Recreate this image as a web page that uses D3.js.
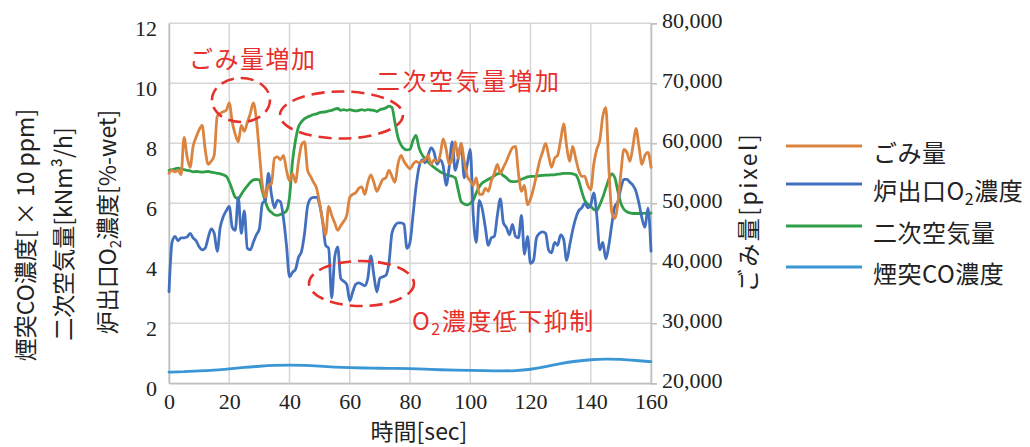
<!DOCTYPE html>
<html>
<head>
<meta charset="utf-8">
<script src="https://cdn.jsdelivr.net/npm/d3@7"></script>
<style>
  html, body { margin: 0; padding: 0; background: #fff; }
  svg { display: block; }
  .jp { font-family: "Noto Sans CJK JP", "Noto Sans", sans-serif; }
  .num { font-family: "Liberation Serif", "DejaVu Serif", serif; }
</style>
</head>
<body>
<svg id="chart" width="1030" height="447"></svg>
<script>
// time axis [sec], one sample per second
const seconds = d3.range(0, 161);

// ごみ量 [pixel] (right axis)
const garbage = [
  55000,55500,55250,55500,54750,61000,57750,56000,59500,61000,
  62250,63000,59000,56500,57000,58000,64500,65000,65250,65500,
  66750,63500,61500,60250,63000,62000,63500,65000,66750,64000,
  58500,53000,51000,53000,53250,57500,57750,57250,58000,55500,
  53750,55000,53500,57000,59750,60250,55500,54500,53500,52500,
  50000,47000,44750,49500,48000,46750,45500,46250,47000,48000,
  51000,51500,51750,52500,52750,51500,53500,54750,53500,52000,
  53000,54000,54250,55500,54500,53500,56500,58000,57000,56250,
  55750,56500,57000,56750,57000,57250,58000,56500,57250,57000,
  58000,60750,59000,56500,57500,60250,57500,60000,57000,54500,
  53750,53000,54250,51500,51500,52500,52000,53750,55000,56500,
  55000,56000,57000,58250,59250,59500,55000,52000,53000,49750,
  50750,52500,54750,57000,58500,60000,58000,56000,57500,58000,
  60500,63250,59500,57000,59500,57500,55500,54500,54500,53000,
  52250,56500,59000,60500,64500,66000,56000,48500,47500,50000,
  55000,59000,58500,57000,59500,62500,59500,56500,58000,58500,
  56000
];

// 炉出口O2濃度 [%-wet]
const o2 = [
  3.05,4.70,4.90,4.75,4.85,4.85,4.88,5.00,4.85,4.75,
  4.55,4.45,4.50,4.85,5.15,5.00,4.40,5.20,5.55,5.75,
  5.90,5.20,5.10,6.20,5.00,5.75,4.50,4.45,4.70,4.95,
  5.15,6.00,6.10,7.00,6.30,5.85,6.10,6.05,5.50,4.60,
  3.55,3.70,3.80,4.20,4.40,5.00,5.90,6.15,6.20,6.20,
  5.95,5.40,4.60,4.50,2.85,4.20,4.55,3.50,3.40,3.30,
  2.75,3.05,3.30,3.35,3.30,3.25,3.50,4.25,3.60,3.05,
  3.50,3.55,3.60,4.00,5.00,5.25,5.35,5.35,5.30,4.50,
  4.70,5.60,6.55,7.20,7.45,7.35,7.60,7.85,7.70,7.30,
  7.45,7.25,6.60,7.20,8.05,7.10,7.50,8.00,6.85,7.30,
  7.80,5.60,4.70,6.10,5.80,5.20,4.60,4.85,4.90,5.60,
  6.15,5.35,5.20,4.95,5.30,4.90,4.85,5.60,4.30,4.90,
  4.00,4.10,4.85,5.00,5.05,5.00,4.45,4.35,4.70,4.60,
  4.95,4.80,4.10,4.60,5.10,5.50,5.75,5.85,6.00,5.85,
  5.95,6.35,5.60,4.45,4.70,4.15,4.60,5.30,5.90,6.05,
  6.50,6.80,6.80,6.70,6.60,6.40,6.00,5.50,5.20,5.85,
  4.40
];

// 二次空気量 [kNm3/h]
const secondaryAir = [
  7.10,7.12,7.15,7.17,7.15,7.12,7.10,7.08,7.05,7.06,
  7.05,7.04,7.05,7.06,7.04,7.02,7.00,6.98,6.95,6.90,
  6.72,6.45,6.20,6.15,6.30,6.45,6.58,6.70,6.78,6.80,
  6.78,6.40,6.05,5.80,5.70,5.62,5.60,5.63,5.67,5.75,
  6.20,7.40,8.10,8.55,8.72,8.82,8.88,8.92,8.96,8.98,
  9.02,9.04,9.05,9.08,9.10,9.14,9.16,9.10,9.12,9.10,
  9.12,9.10,9.08,9.10,9.12,9.10,9.12,9.11,9.10,9.06,
  9.12,9.15,9.18,9.24,9.20,8.70,8.20,7.95,7.82,7.78,
  7.80,8.10,8.26,7.85,7.62,7.48,7.38,7.28,7.20,7.12,
  7.05,7.00,6.95,6.92,6.90,6.85,6.45,6.05,5.98,5.95,
  6.00,6.10,6.35,6.55,6.68,6.74,6.80,6.85,6.92,6.98,
  7.00,6.92,6.85,6.75,6.72,6.72,6.75,6.80,6.84,6.88,
  6.90,6.90,6.90,6.92,6.93,6.94,6.94,6.95,6.95,6.97,
  6.98,7.00,7.00,7.00,6.98,6.95,6.75,6.40,6.10,5.98,
  5.90,5.80,5.76,5.95,6.20,6.50,6.80,6.98,6.85,6.40,
  6.00,5.80,5.72,5.68,5.66,5.66,5.66,5.66,5.67,5.67,
  5.67
];

// 煙突CO濃度 [x10 ppm], sampled every 5 sec
const coSeconds = d3.range(0, 161, 5);
const coConc = [
  0.37,0.39,0.41,0.44,0.48,0.53,0.57,0.60,0.61,0.60,
  0.57,0.54,0.52,0.51,0.50,0.50,0.49,0.47,0.45,0.44,
  0.43,0.42,0.41,0.42,0.46,0.55,0.66,0.74,0.79,0.81,
  0.80,0.76,0.72
];

const xTicks = d3.range(0, 161, 20);
const leftTicks = d3.range(0, 13, 2);
const rightTicks = d3.range(20000, 80001, 10000);

const colors = {
  garbage: "#DB843F",
  o2: "#4270BE",
  air: "#2F9E48",
  co: "#3B96D6",
  note: "#E5302B",
  grid: "#D6D6D6"
};

const svg = d3.select("#chart");
const plotLeft = 169, plotRight = 651, plotTop = 23.3, plotBottom = 383.3;

const x = d3.scaleLinear().domain([0, 160]).range([plotLeft, plotRight]);
const yL = d3.scaleLinear().domain([0, 12]).range([plotBottom, plotTop]);
const yR = d3.scaleLinear().domain([20000, 80000]).range([plotBottom, plotTop]);

// gridlines
const grid = svg.append("g");
grid.selectAll("line.h").data(leftTicks).join("line").attr("class", "h")
  .attr("x1", plotLeft).attr("x2", plotRight)
  .attr("y1", d => yL(d)).attr("y2", d => yL(d))
  .attr("stroke", colors.grid).attr("stroke-width", 1.5);
grid.selectAll("line.v").data(xTicks).join("line").attr("class", "v")
  .attr("x1", d => x(d)).attr("x2", d => x(d))
  .attr("y1", plotTop).attr("y2", plotBottom)
  .attr("stroke", colors.grid).attr("stroke-width", 1.5);

// left axis labels
const leftAxis = svg.append("g").attr("transform", `translate(${plotLeft},0)`)
  .call(d3.axisLeft(yL).tickValues(leftTicks).tickSize(0).tickPadding(12));
leftAxis.select(".domain").attr("stroke", "#BFBFBF").attr("stroke-width", 1.5);
leftAxis.selectAll("text").attr("class", "num").attr("font-size", 22)
  .attr("fill", "#222").attr("dy", "0.55em");

// right axis
const rightAxis = svg.append("g").attr("transform", `translate(${plotRight},0)`)
  .call(d3.axisRight(yR).tickValues(rightTicks).tickSize(6).tickPadding(5)
    .tickFormat(d3.format(",")));
rightAxis.select(".domain").attr("stroke", "#BFBFBF").attr("stroke-width", 1.5);
rightAxis.selectAll("line").attr("stroke", "#BFBFBF").attr("stroke-width", 1.5);
rightAxis.selectAll("text").attr("class", "num").attr("font-size", 22)
  .attr("fill", "#222").attr("dy", "0.2em");

// bottom axis
const bottomAxis = svg.append("g").attr("transform", `translate(0,${plotBottom})`)
  .call(d3.axisBottom(x).tickValues(xTicks).tickSize(0).tickPadding(10));
bottomAxis.select(".domain").attr("stroke", "#BFBFBF").attr("stroke-width", 1.5);
bottomAxis.selectAll("text").attr("class", "num").attr("font-size", 22)
  .attr("fill", "#222").attr("dy", "0.72em");

// series lines
const lineL = d3.line().x((d, i) => x(seconds[i])).y(d => yL(d)).curve(d3.curveMonotoneX);
const lineR = d3.line().x((d, i) => x(seconds[i])).y(d => yR(d)).curve(d3.curveMonotoneX);
const lineCO = d3.line().x((d, i) => x(coSeconds[i])).y(d => yL(d)).curve(d3.curveBasis);

const plot = svg.append("g").attr("fill", "none")
  .attr("stroke-linejoin", "round").attr("stroke-linecap", "round");
plot.append("path").attr("d", lineCO(coConc)).attr("stroke", colors.co).attr("stroke-width", 2.8);
plot.append("path").attr("d", lineL(secondaryAir)).attr("stroke", colors.air).attr("stroke-width", 2.8);
plot.append("path").attr("d", lineL(o2)).attr("stroke", colors.o2).attr("stroke-width", 2.8);
plot.append("path").attr("d", lineR(garbage)).attr("stroke", colors.garbage).attr("stroke-width", 2.8);

// annotations
const notes = svg.append("g");
const ellipses = [
  { cx: 241, cy: 100, rx: 29, ry: 22 },
  { cx: 341.5, cy: 115, rx: 61.5, ry: 23.5 },
  { cx: 361.5, cy: 283.5, rx: 52.5, ry: 22.5 }
];
notes.selectAll("ellipse").data(ellipses).join("ellipse")
  .attr("cx", d => d.cx).attr("cy", d => d.cy)
  .attr("rx", d => d.rx).attr("ry", d => d.ry)
  .attr("fill", "none").attr("stroke", colors.note)
  .attr("stroke-width", 2.6).attr("stroke-dasharray", "13 7");

notes.append("text").attr("class", "jp").attr("x", 189).attr("y", 68)
  .attr("font-size", 24).attr("letter-spacing", 1.5).attr("fill", colors.note)
  .text("ごみ量増加");
notes.append("text").attr("class", "jp").attr("x", 376).attr("y", 90)
  .attr("font-size", 24).attr("letter-spacing", 2.5).attr("fill", colors.note)
  .text("二次空気量増加");
const o2Note = notes.append("text").attr("class", "jp").attr("x", 412).attr("y", 330)
  .attr("font-size", 24).attr("letter-spacing", 1.5).attr("fill", colors.note);
o2Note.append("tspan").text("O");
o2Note.append("tspan").attr("font-size", 16).attr("dy", 5).text("2");
o2Note.append("tspan").attr("dy", -5).text("濃度低下抑制");

// axis titles
const titles = svg.append("g").attr("class", "jp").attr("fill", "#222").attr("font-size", 23);
titles.append("text").attr("transform", "translate(34,235) rotate(-90)")
  .attr("text-anchor", "middle").text("煙突CO濃度[ × 10  ppm]");
titles.append("text").attr("transform", "translate(72,234) rotate(-90)")
  .attr("text-anchor", "middle").text("二次空気量[kNm³/h]");
const o2Title = titles.append("text").attr("transform", "translate(116,222) rotate(-90)")
  .attr("text-anchor", "middle");
o2Title.append("tspan").text("炉出口O");
o2Title.append("tspan").attr("font-size", 15).attr("dy", 5).text("2");
o2Title.append("tspan").attr("dy", -5).text("濃度[%-wet]");
titles.append("text").attr("transform", "translate(757,212) rotate(-90)")
  .attr("text-anchor", "middle").attr("letter-spacing", 2.5).text("ごみ量[pixel]");
titles.append("text").attr("x", 419).attr("y", 440)
  .attr("text-anchor", "middle").text("時間[sec]");

// legend
const legendItems = [
  { label: "ごみ量", color: colors.garbage, y: 146 },
  { label: "炉出口O", sub: "2", tail: "濃度", color: colors.o2, y: 184 },
  { label: "二次空気量", color: colors.air, y: 226 },
  { label: "煙突CO濃度", color: colors.co, y: 267 }
];
const legend = svg.append("g");
const li = legend.selectAll("g").data(legendItems).join("g");
li.append("line").attr("x1", 786).attr("x2", 862)
  .attr("y1", d => d.y).attr("y2", d => d.y)
  .attr("stroke", d => d.color).attr("stroke-width", 3.2);
li.each(function(d) {
  const t = d3.select(this).append("text").attr("class", "jp")
    .attr("x", 873).attr("y", d.y + 16).attr("font-size", 24)
    .attr("letter-spacing", 0.5).attr("fill", "#222");
  t.append("tspan").text(d.label);
  if (d.sub) {
    t.append("tspan").attr("font-size", 16).attr("dy", 5).text(d.sub);
    t.append("tspan").attr("dy", -5).text(d.tail);
  }
});
</script>
</body>
</html>
